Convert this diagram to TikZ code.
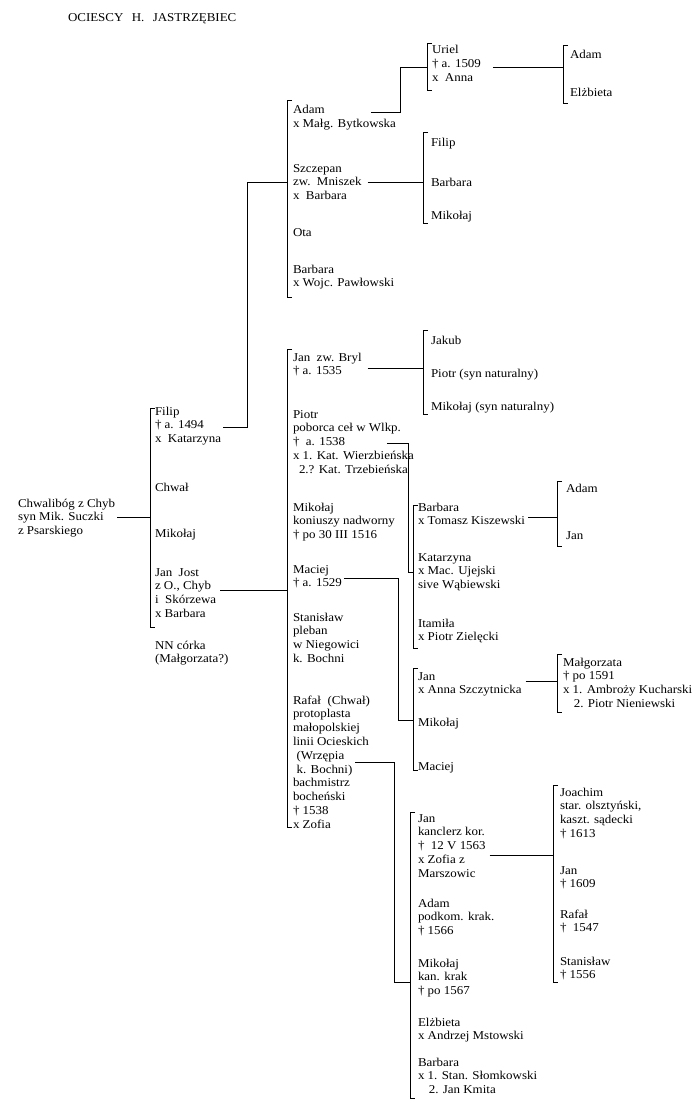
\documentclass[tikz,border=0pt]{standalone}
\usepackage{fontspec}
\setmainfont{Liberation Serif}[FakeStretch=1.08]
\usetikzlibrary{calc}
\newcommand\lns[1]{\begin{tabular}[t]{@{}l@{}}#1\end{tabular}}
\begin{document}
\begin{tikzpicture}[x=1pt,y=-1pt,
  person/.style={inner sep=0pt, outer sep=0pt, anchor=base west,
    font=\fontsize{12}{13.8}\selectfont},
  link/.style={line width=0.9pt, black},
  brk/.style={line width=0.9pt, black}]
\useasboundingbox[fill=white] (0,0) rectangle (700,1110);

% title
\node[person] (title) at (68,22) {OCIESCY\hspace{0.7em}H.\hspace{0.7em}JASTRZĘBIEC};

% root
\node[person] (root) at (18,507) {\lns{Chwalibóg z Chyb\\syn Mik. Suczki\\z Psarskiego}};

% level 1
\node[person] (filip) at (155,415) {\lns{Filip\\† a. 1494\\x\ \ Katarzyna}};
\node[person] (chwal) at (155,491) {Chwał};
\node[person] (mikolajA) at (155,537) {Mikołaj};
\node[person] (janjost) at (155,576) {\lns{Jan\ \ Jost\\z O., Chyb\\i\ \ Skórzewa\\x Barbara}};
\node[person] (nn) at (155,649) {\lns{NN córka\\(Małgorzata?)}};

% children of Filip
\node[person] (adamA) at (293,114) {\lns{Adam\\x Małg. Bytkowska}};
\node[person] (szczepan) at (293,172) {\lns{Szczepan\\zw.\ \ Mniszek\\x\ \ Barbara}};
\node[person] (ota) at (293,236) {Ota};
\node[person] (barbaraA) at (293,273) {\lns{Barbara\\x Wojc. Pawłowski}};

% children of Adam
\node[person] (uriel) at (432,54) {\lns{Uriel\\† a. 1509\\x\ \ Anna}};
% children of Uriel
\node[person] (adamB) at (570,59) {Adam};
\node[person] (elzbietaA) at (570,97) {Elżbieta};

% children of Szczepan
\node[person] (filipB) at (431,147) {Filip};
\node[person] (barbaraB) at (431,186) {Barbara};
\node[person] (mikolajB) at (431,219) {Mikołaj};

% children of Jan Jost
\node[person] (janA) at (293,361) {\lns{Jan\ \ zw. Bryl\\† a. 1535}};
\node[person] (piotrA) at (293,418) {\lns{Piotr\\poborca ceł w Wlkp.\\†\ \ a. 1538\\x 1. Kat. Wierzbieńska\\\hspace{0.5em}2.? Kat. Trzebieńska}};
\node[person] (mikolajC) at (293,511) {\lns{Mikołaj\\koniuszy nadworny\\† po 30 III 1516}};
\node[person] (maciejA) at (293,573) {\lns{Maciej\\† a. 1529}};
\node[person] (stanislawA) at (293,621) {\lns{Stanisław\\pleban\\w Niegowici\\k. Bochni}};
\node[person] (rafalA) at (293,704) {\lns{Rafał\ \ (Chwał)\\protoplasta\\małopolskiej\\linii Ocieskich\\\hspace{0.3em}(Wrzępia\\\hspace{0.3em}k. Bochni)\\bachmistrz\\bocheński\\† 1538\\x Zofia}};

% children of Jan zw. Bryl
\node[person] (jakub) at (431,344) {Jakub};
\node[person] (piotrB) at (431,377) {Piotr (syn naturalny)};
\node[person] (mikolajD) at (431,410) {Mikołaj (syn naturalny)};

% children of Piotr
\node[person] (barbaraC) at (418,511) {\lns{Barbara\\x Tomasz Kiszewski}};
\node[person] (katarzyna) at (418,561) {\lns{Katarzyna\\x Mac. Ujejski\\sive Wąbiewski}};
\node[person] (itamila) at (418,627) {\lns{Itamiła\\x Piotr Zielęcki}};

% children of Barbara Kiszewska
\node[person] (adamC) at (566,492) {Adam};
\node[person] (janB) at (566,539) {Jan};

% children of Maciej
\node[person] (janC) at (418,680) {\lns{Jan\\x Anna Szczytnicka}};
\node[person] (mikolajE) at (418,726) {Mikołaj};
\node[person] (maciejB) at (418,770) {Maciej};

% child of Jan x Anna
\node[person] (malgorzata) at (563,666) {\lns{Małgorzata\\† po 1591\\x 1. Ambroży Kucharski\\\hspace{0.9em}2. Piotr Nieniewski}};

% children of Rafał
\node[person] (janD) at (418,822) {\lns{Jan\\kanclerz kor.\\†\ \ 12 V 1563\\x Zofia z\\Marszowic}};
\node[person] (adamD) at (418,907) {\lns{Adam\\podkom. krak.\\† 1566}};
\node[person] (mikolajF) at (418,967) {\lns{Mikołaj\\kan. krak\\† po 1567}};
\node[person] (elzbietaB) at (418,1026) {\lns{Elżbieta\\x Andrzej Mstowski}};
\node[person] (barbaraD) at (418,1066) {\lns{Barbara\\x 1. Stan. Słomkowski\\\hspace{0.9em}2. Jan Kmita}};

% children of Jan kanclerz
\node[person] (joachim) at (560,796) {\lns{Joachim\\star. olsztyński,\\kaszt. sądecki\\† 1613}};
\node[person] (janE) at (560,874) {\lns{Jan\\† 1609}};
\node[person] (rafalB) at (560,918) {\lns{Rafał\\†\ \ 1547}};
\node[person] (stanislawB) at (560,965) {\lns{Stanisław\\† 1556}};

% ---------- brackets ----------
\def\tick{5}
\foreach \n/\x/\t/\b in {B1/150/408/627, B2/287/100/297, B3/287/349/827,
   B4/427/43/90, B5/563/45/103, B6/423/132/223, B7/423/330/414,
   B8/413/505/648, B9/557/481/546, B10/413/668/770, B11/557/654/712,
   B12/410/812/1098, B13/553/785/982}{
  \coordinate (\n t) at (\x,\t);
  \coordinate (\n b) at (\x,\b);
  \draw[brk] ($(\n t)+(\tick,0)$) -- (\n t) -- (\n b) -- ($(\n b)+(\tick,0)$);
}

% ---------- connectors ----------
\coordinate (j1) at (B1t |- 0,517);
\coordinate (j2) at (B2t |- 0,182);
\coordinate (j3) at (B3t |- 0,590);
\coordinate (j4) at (B4t |- 0,67);
\coordinate (j5) at (B5t |- 0,67);
\coordinate (j6) at (B6t |- 0,182);
\coordinate (j7) at (B7t |- 0,368);
\coordinate (j8) at (B8t |- 0,572);
\coordinate (j9) at (B9t |- 0,517);
\coordinate (j10) at (B10t |- 0,720);
\coordinate (j11) at (B11t |- 0,681);
\coordinate (j12) at (B12t |- 0,982);
\coordinate (j13) at (B13t |- 0,855);
\coordinate (t2) at (247,427);
\coordinate (t4) at (400,112);
\coordinate (t8) at (408,443);
\coordinate (t10) at (398,578);
\coordinate (t12) at (394,762);

\draw[link] ($(root.east |- j1)+(2,0)$) -- (j1);
\draw[link] ($(filip.east |- t2)+(2,0)$) -- (t2) |- (j2);
\draw[link] ($(janjost.east |- j3)+(4,0)$) -- (j3);
\draw[link] ($(adamA.east |- t4)+(-25,0)$) -- (t4) |- (j4);
\draw[link] ($(uriel.east |- j5)+(12,0)$) -- (j5);
\draw[link] ($(szczepan.east |- j6)+(6,0)$) -- (j6);
\draw[link] ($(janA.east |- j7)+(6,0)$) -- (j7);
\draw[link] ($(piotrA.east |- t8)+(-27,0)$) -- (t8) |- (j8);
\draw[link] ($(barbaraC.east |- j9)+(3,0)$) -- (j9);
\draw[link] ($(maciejA.east |- t10)+(2,0)$) -- (t10) |- (j10);
\draw[link] ($(janC.east |- j11)+(4,0)$) -- (j11);
\draw[link] ($(rafalA.east |- t12)+(-15,0)$) -- (t12) |- (j12);
\draw[link] ($(janD.east |- j13)+(4,0)$) -- (j13);
\end{tikzpicture}
\end{document}
